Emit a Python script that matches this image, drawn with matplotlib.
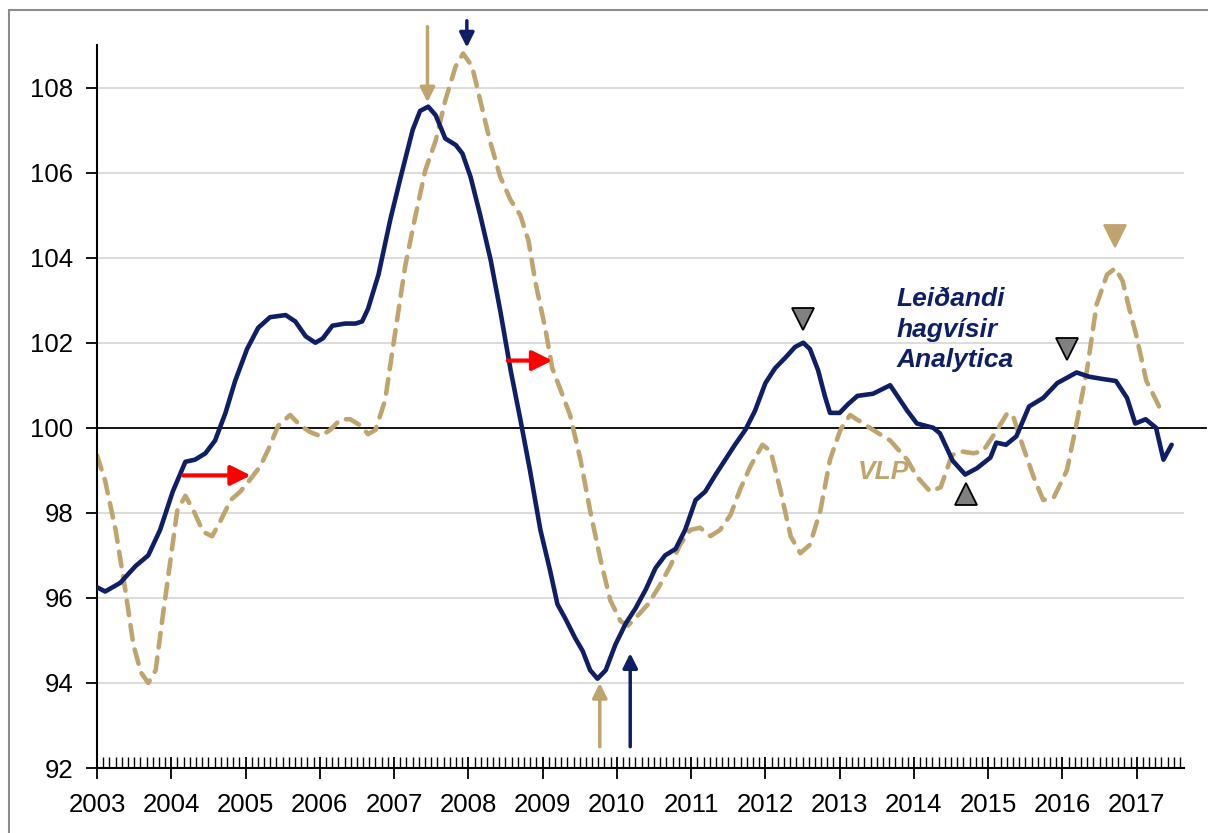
import matplotlib
matplotlib.use("Agg")
import matplotlib.pyplot as plt
from matplotlib.patches import Rectangle

# Leiðandi hagvísir Analytica (decimal year, index)
lh_year = [2003.00, 2003.11, 2003.31, 2003.52, 2003.69, 2003.85, 2004.02, 2004.19, 2004.32,
           2004.46, 2004.59, 2004.73, 2004.86, 2005.02, 2005.17, 2005.33, 2005.54, 2005.67,
           2005.81, 2005.94, 2006.04, 2006.17, 2006.34, 2006.48, 2006.57, 2006.65, 2006.79,
           2006.95, 2007.09, 2007.25, 2007.35, 2007.46, 2007.56, 2007.69, 2007.83, 2007.92,
           2008.03, 2008.16, 2008.30, 2008.43, 2008.57, 2008.70, 2008.83, 2008.97, 2009.10,
           2009.20, 2009.31, 2009.44, 2009.54, 2009.64, 2009.74, 2009.85, 2009.98, 2010.12,
           2010.25, 2010.39, 2010.52, 2010.65, 2010.79, 2010.92, 2011.06, 2011.19, 2011.33,
           2011.46, 2011.59, 2011.73, 2011.86, 2012.00, 2012.13, 2012.27, 2012.40, 2012.51,
           2012.60, 2012.71, 2012.80, 2012.87, 2013.00, 2013.11, 2013.24, 2013.45, 2013.68,
           2013.91, 2014.04, 2014.26, 2014.35, 2014.52, 2014.69, 2014.85, 2015.03, 2015.11,
           2015.24, 2015.38, 2015.55, 2015.74, 2015.93, 2016.19, 2016.36, 2016.53, 2016.72,
           2016.87, 2016.98, 2017.12, 2017.26, 2017.36, 2017.47]
lh_val = [96.25, 96.15, 96.35, 96.75, 97.00, 97.60, 98.50, 99.20, 99.25,
          99.40, 99.70, 100.35, 101.10, 101.85, 102.35, 102.60, 102.65, 102.50,
          102.15, 102.00, 102.10, 102.40, 102.45, 102.45, 102.50, 102.80, 103.60,
          104.90, 105.90, 107.00, 107.45, 107.55, 107.35, 106.80, 106.65, 106.45,
          105.90, 105.00, 103.95, 102.75, 101.35, 100.20, 99.00, 97.60, 96.65,
          95.85, 95.50, 95.05, 94.75, 94.30, 94.10, 94.30, 94.90, 95.40,
          95.75, 96.20, 96.70, 97.00, 97.15, 97.60, 98.30, 98.50, 98.90,
          99.25, 99.60, 99.95, 100.40, 101.05, 101.40, 101.65, 101.90, 102.00,
          101.85, 101.35, 100.75, 100.35, 100.35, 100.55, 100.75, 100.80, 101.00,
          100.40, 100.10, 100.00, 99.87, 99.23, 98.90, 99.05, 99.30, 99.65,
          99.60, 99.80, 100.50, 100.70, 101.05, 101.30, 101.20, 101.15, 101.10,
          100.70, 100.10, 100.20, 100.00, 99.25, 99.60]

# VLP (decimal year, index)
vlp_year = [2003.00, 2003.11, 2003.25, 2003.38, 2003.49, 2003.59, 2003.69, 2003.79, 2003.88,
            2003.99, 2004.08, 2004.19, 2004.30, 2004.43, 2004.55, 2004.66, 2004.80, 2004.93,
            2005.07, 2005.20, 2005.31, 2005.44, 2005.60, 2005.74, 2005.87, 2006.01, 2006.14,
            2006.28, 2006.41, 2006.55, 2006.65, 2006.75, 2006.88, 2007.02, 2007.15, 2007.29,
            2007.42, 2007.56, 2007.69, 2007.83, 2007.93, 2008.05, 2008.16, 2008.29, 2008.43,
            2008.57, 2008.70, 2008.81, 2008.90, 2009.04, 2009.13, 2009.24, 2009.37, 2009.51,
            2009.64, 2009.78, 2009.91, 2010.05, 2010.15, 2010.29, 2010.42, 2010.58, 2010.72,
            2010.85, 2010.99, 2011.12, 2011.26, 2011.39, 2011.53, 2011.66, 2011.80, 2011.96,
            2012.07, 2012.20, 2012.34, 2012.47, 2012.60, 2012.74, 2012.87, 2013.01, 2013.14,
            2013.45, 2013.68, 2013.91, 2014.04, 2014.22, 2014.36, 2014.51, 2014.62, 2014.80,
            2014.93, 2015.12, 2015.26, 2015.34, 2015.47, 2015.61, 2015.74, 2015.88, 2016.06,
            2016.19, 2016.33, 2016.46, 2016.60, 2016.71, 2016.81, 2016.90, 2016.99, 2017.13,
            2017.26, 2017.34]
vlp_val = [99.35, 98.75, 97.60, 96.20, 94.90, 94.25, 94.00, 94.30, 95.50,
           96.90, 98.05, 98.40, 98.05, 97.55, 97.45, 97.80, 98.30, 98.50,
           98.80, 99.10, 99.50, 100.05, 100.30, 100.05, 99.90, 99.80, 99.95,
           100.20, 100.20, 100.05, 99.85, 99.95, 100.65, 102.30, 103.80, 105.00,
           106.05, 106.75, 107.70, 108.50, 108.80, 108.50, 107.70, 106.75, 105.90,
           105.35, 105.00, 104.40, 103.45, 102.30, 101.40, 100.90, 100.30, 99.25,
           98.05, 96.90, 95.95, 95.45, 95.35, 95.60, 95.85, 96.30, 96.75,
           97.25, 97.60, 97.65, 97.45, 97.60, 97.95, 98.55, 99.10, 99.60,
           99.45, 98.55, 97.45, 97.05, 97.25, 98.05, 99.25, 99.95, 100.30,
           99.95, 99.70, 99.25, 98.85, 98.50, 98.60, 99.35, 99.45, 99.40,
           99.45, 99.95, 100.35, 100.25, 99.55, 98.85, 98.30, 98.35, 99.00,
           100.10, 101.35, 102.90, 103.60, 103.75, 103.45, 102.80, 102.20, 101.10,
           100.65, 100.35]

year_ticks = list(range(2003, 2018))
y_ticks = [92, 94, 96, 98, 100, 102, 104, 106, 108]

NAVY = "#0F1F66"
TAN = "#C0A46E"
GRAY = "#808080"

plt.rcParams['font.family'] = ['Liberation Sans', 'DejaVu Sans']

fig = plt.figure(figsize=(12.08, 8.33), dpi=100)
fig.patches.append(Rectangle((9 / 1208, -0.01), 1.05, (833 - 10) / 833 + 0.01,
                             transform=fig.transFigure, fill=False,
                             edgecolor="#8c8c8c", linewidth=1.5))
ax = fig.add_axes([97 / 1208, 1 - 768 / 833, (1184 - 97) / 1208, (768 - 45) / 833])

xmin, xmax = 2003.0, 2003.0 + (1184 - 96.5) / 74.3
ax.set_xlim(xmin, xmax)
ax.set_ylim(92, 109)

for v in y_ticks[1:]:
    if v != 100:
        ax.axhline(v, color="#d9d9d9", linewidth=1.3, zorder=0)
ax.plot([xmin, xmax + 0.3], [100, 100], color="black", linewidth=1.3, clip_on=False, zorder=1)

ax.plot(vlp_year, vlp_val, color=TAN, linewidth=3.3, dashes=(3.2, 2.2),
        dash_capstyle='round', dash_joinstyle='round', zorder=2)
ax.plot(lh_year, lh_val, color=NAVY, linewidth=3.3, zorder=3,
        solid_joinstyle='round', solid_capstyle='round')

for s in ["top", "right"]:
    ax.spines[s].set_visible(False)
ax.spines["left"].set_linewidth(1.5)
ax.spines["bottom"].set_linewidth(1.5)

ax.set_yticks(y_ticks)
ax.set_yticklabels([str(v) for v in y_ticks], fontsize=18.5)
ax.set_xticks(year_ticks)
ax.set_xticklabels([str(y) for y in year_ticks], fontsize=18.5)
ax.set_xticks([y + m / 12 for y in range(2003, 2018) for m in range(1, 12)
               if y + m / 12 < xmax], minor=True)
ax.tick_params(axis='y', length=8, width=1.3, direction='out', pad=9)
ax.tick_params(axis='x', which='major', length=16, width=1.3, direction='inout', pad=10)
ax.tick_params(axis='x', which='minor', length=8, width=1.0, direction='in')

arrow_kw = dict(arrowstyle='-|>', mutation_scale=22, shrinkA=0, shrinkB=0)
# peak / trough arrows
ax.annotate("", xy=(2007.45, 107.65), xytext=(2007.45, 109.43),
            arrowprops=dict(color=TAN, lw=2.5, **arrow_kw), annotation_clip=False)
ax.annotate("", xy=(2007.98, 108.94), xytext=(2007.98, 109.57),
            arrowprops=dict(color=NAVY, lw=2.5, **arrow_kw), annotation_clip=False)
ax.annotate("", xy=(2009.77, 94.0), xytext=(2009.77, 92.5),
            arrowprops=dict(color=TAN, lw=2.5, **arrow_kw), annotation_clip=False)
ax.annotate("", xy=(2010.18, 94.7), xytext=(2010.18, 92.5),
            arrowprops=dict(color=NAVY, lw=2.5, **arrow_kw), annotation_clip=False)
# red lag arrows
ax.annotate("", xy=(2005.07, 98.88), xytext=(2004.16, 98.88),
            arrowprops=dict(color="red", lw=3, arrowstyle='-|>', mutation_scale=30,
                            shrinkA=0, shrinkB=0))
ax.annotate("", xy=(2009.13, 101.58), xytext=(2008.53, 101.58),
            arrowprops=dict(color="red", lw=3, arrowstyle='-|>', mutation_scale=30,
                            shrinkA=0, shrinkB=0))

# turning point triangles
ax.plot([2012.51], [102.55], marker='v', markersize=16, color=GRAY,
        markeredgecolor='black', markeredgewidth=1.3, zorder=4)
ax.plot([2016.06], [101.85], marker='v', markersize=16, color=GRAY,
        markeredgecolor='black', markeredgewidth=1.3, zorder=4)
ax.plot([2014.70], [98.45], marker='^', markersize=16, color=GRAY,
        markeredgecolor='black', markeredgewidth=1.3, zorder=4)
ax.plot([2016.71], [104.5], marker='v', markersize=16, color=TAN,
        markeredgecolor=TAN, markeredgewidth=1.3, zorder=4)

ax.text(2013.77, 103.3, "Leiðandi\nhagvísir\nAnalytica", color=NAVY, fontsize=19,
        fontweight='bold', fontstyle='italic', va='top', ha='left', linespacing=1.33)
ax.text(2013.25, 98.95, "VLP", color=TAN, fontsize=19, fontweight='bold',
        fontstyle='italic', va='center', ha='left')

fig.savefig("out.png", dpi=100)
